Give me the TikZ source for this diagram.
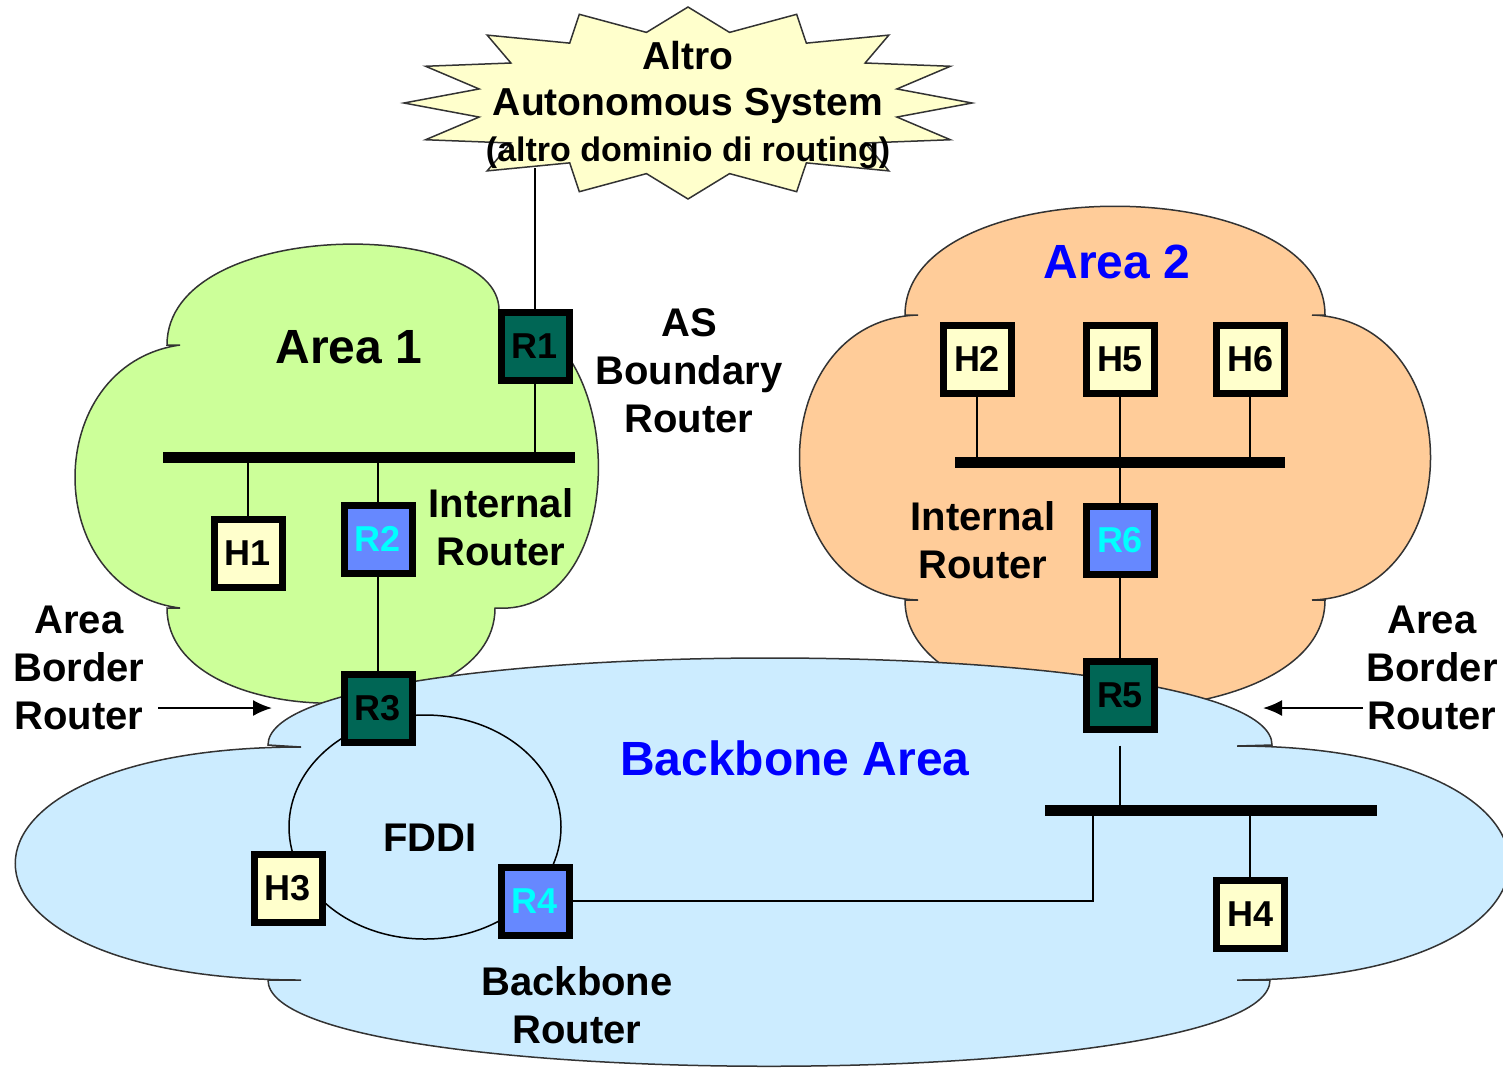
\documentclass[tikz,border=0pt]{standalone}
\usepackage{fontspec}
\setmainfont{Liberation Sans}
\usepackage{tikz}
\usetikzlibrary{arrows.meta}
\definecolor{hostfill}{RGB}{255,255,204}
\definecolor{routerdark}{RGB}{0,102,85}
\definecolor{routerblue}{RGB}{102,136,255}
\definecolor{routertext}{RGB}{0,255,255}
\definecolor{area1fill}{RGB}{204,255,153}
\definecolor{area2fill}{RGB}{255,204,153}
\definecolor{backfill}{RGB}{204,236,255}
\newcommand{\lblfont}{\fontsize{40}{48}\selectfont\bfseries}
\newcommand{\boxfont}{\fontsize{36}{36}\selectfont\bfseries}
\newcommand{\areafont}{\fontsize{48}{48}\selectfont\bfseries}
\newcommand{\starfont}{\fontsize{39}{46}\selectfont\bfseries}
\tikzset{host/.style={draw=black, line width=7pt, fill=hostfill, minimum size=68pt, inner sep=0pt, font=\boxfont},
router/.style={host, fill=routerdark},
irouter/.style={host, fill=routerblue, text=routertext},
link/.style={line width=2pt},
bus/.style={line width=11pt},
areacloud/.style={draw=black!80, line width=1.5pt},
lbl/.style={font=\lblfont, align=center},
arealbl/.style={font=\areafont},
pointer/.style={line width=2pt, -{Latex[length=19pt, width=16pt]}}}

\begin{document}
\begin{tikzpicture}[x=1pt,y=-1pt]
\useasboundingbox (0,0) rectangle (1503,1069);
%\draw [help lines] (0,0) grid (1503,1069);
% Area 1
\draw[areacloud, fill=area1fill] (167,345) .. controls (167,217) and (499,217) .. (499,310)
  .. controls (630,330) and (630,600) .. (508,608) -- (495,608)
  .. controls (495,735) and (167,735) .. (167,608) -- (180,608)
  .. controls (40,590) and (40,365) .. (180,345) -- cycle;
% Area 2
\draw[areacloud, fill=area2fill] (905,315) .. controls (905,170) and (1325,170) .. (1325,315) -- (1312,315)
  .. controls (1470,320) and (1470,595) .. (1312,600) -- (1325,600)
  .. controls (1325,745) and (905,745) .. (905,600) -- (918,600)
  .. controls (760,595) and (760,320) .. (918,315) -- cycle;
% Backbone
\draw[areacloud, fill=backfill] (268,745) .. controls (268,629) and (1272,629) .. (1272,745) -- (1237,746)
  .. controls (1600,746) and (1600,980) .. (1237,980) -- (1270,980)
  .. controls (1270,1095) and (268,1095) .. (268,980) -- (301,980)
  .. controls (-80,980) and (-80,747) .. (301,747) -- cycle;
% altro AS
\draw[areacloud, fill=hostfill] plot[samples at={0,...,31}]
  ({688+ifthenelse(mod(\x,2)==0,284,213)*cos(\x*11.25)}, {103+ifthenelse(mod(\x,2)==0,96,72)*sin(\x*11.25)}) -- cycle;
\node[align=center, font=\starfont] (as) at (688,105)
  {Altro\\Autonomous System\\\fontsize{34}{44}\selectfont (altro dominio di routing)};
\coordinate (asfoot) at (538,168);

% FDDI ring
\draw[line width=1.5pt] (425,827) ellipse [x radius=136, y radius=112];
\node[lbl] (fddi) at (430,838) {FDDI};

%routers and hosts
\node[router] (R1) at (535,346) {R1};
\node[irouter] (R2) at (378,539) {R2};
\node[host] (H1) at (248,553) {H1};
\node[router] (R3) at (378,708) {R3};
\node[host] (H3) at (288,888) {H3};
\node[irouter] (R4) at (535,901) {R4};
\node[router] (R5) at (1120,695) {R5};
\node[irouter] (R6) at (1120,540) {R6};
\foreach \h/\x in {H2/977,H5/1120,H6/1250}
     \node[host] (\h) at (\x,359) {\h};
\node[host] (H4) at (1250,914) {H4};

% buses
\coordinate (bus1w) at (163,457);
\coordinate (bus1e) at (575,457);
\coordinate (bus2w) at (955,462);
\coordinate (bus2e) at (1285,462);
\coordinate (bus3w) at (1045,810);
\coordinate (bus3e) at (1377,810);
\coordinate (tap) at (1093,810);
\draw[bus] (bus1w) -- (bus1e);
\draw[bus] (bus2w) -- (bus2e);
\draw[bus] (bus3w) -- (bus3e);

% links
\draw[link] (R1.north) -- (R1.north |- asfoot);
\foreach \n in {R1,H1,R2}
     \draw[link] (\n) -- (\n |- bus1w);
\draw[link] (R2) -- (R3);
\foreach \n in {H2,H5,H6,R6}
     \draw[link] (\n) -- (\n |- bus2w);
\draw[link] (R6) -- (R5);
\draw[link, shorten <=13pt] (R5) -- (R5 |- bus3w);
\draw[link] (tap) |- (R4);
\draw[link] (H4) -- (H4 |- bus3w);

%labels
\node[arealbl] (area1) at (349,347) {Area 1};
\node[arealbl, text=blue] (area2) at (1117,262) {Area 2};
\node[arealbl, text=blue] (bbarea) at (795,758) {Backbone Area};
\node[lbl] (asb) at (689,371) {AS\\Boundary\\Router};
\node[lbl] (int1) at (501,527) {Internal\\Router};
\node[lbl] (int2) at (983,540) {Internal\\Router};
\node[lbl] (bbr) at (577,1005) {Backbone\\Router};
\node[lbl] (abrL) at (79,668) {Area\\Border\\Router};
\node[lbl] (abrR) at (1432,668) {Area\\Border\\Router};
\coordinate (abrLtip) at (272,708);
\coordinate (abrRtip) at (1263,708);
\draw[pointer] ([xshift=10pt]abrL.east |- abrLtip) -- (abrLtip);
\draw[pointer] (abrR.west |- abrRtip) -- (abrRtip);

\end{tikzpicture}
\end{document}
